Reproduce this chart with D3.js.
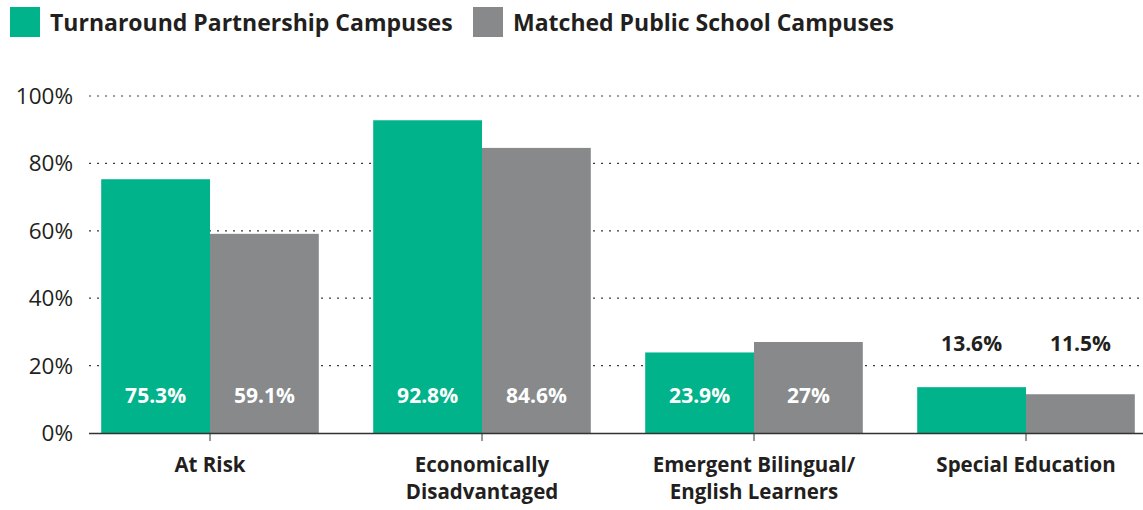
<!DOCTYPE html>
<html>
<head>
<meta charset="utf-8">
<script src="https://cdn.jsdelivr.net/npm/d3@7"></script>
<style>
  body { margin: 0; background: #fff; }
  text { font-family: "Open Sans", Lato, sans-serif; fill: #231f20; }
</style>
</head>
<body>
<div id="chart"></div>
<script>
const categories = [["At Risk"], ["Economically", "Disadvantaged"], ["Emergent Bilingual/", "English Learners"], ["Special Education"]]
const seriesNames = ["Turnaround Partnership Campuses", "Matched Public School Campuses"]
const turnaround = [75.3, 92.8, 23.9, 13.6]
const matched = [59.1, 84.6, 27, 11.5]
const yTicks = [0, 20, 40, 60, 80, 100]
const colors = ["#00b38a", "#87898b"]

const width = 1143, height = 510
const svg = d3.select("#chart").append("svg")
    .attr("width", width)
    .attr("height", height)

const keys = categories.map(c => c.join(" "))
const x = d3.scaleBand().domain(keys).range([74, 1162]).paddingInner(0.2).paddingOuter(0.1)
const xs = d3.scaleBand().domain([0, 1]).range([0, x.bandwidth()])
const y = d3.scaleLinear().domain([0, 100]).range([433, 96])

// grid lines
svg.append("g").selectAll("line")
    .data(yTicks.filter(d => d > 0))
    .enter().append("line")
    .attr("x1", 89).attr("x2", width)
    .attr("y1", d => y(d)).attr("y2", d => y(d))
    .attr("stroke", "#3a3a3a")
    .attr("stroke-width", 1.2)
    .attr("stroke-dasharray", "2,6")

// y labels
svg.append("g").selectAll("text")
    .data(yTicks)
    .enter().append("text")
    .attr("x", 73).attr("y", d => y(d) + 8)
    .attr("text-anchor", "end")
    .style("font-size", "22.5px")
    .style("font-weight", 500)
    .text(d => d + "%")

const rows = keys.map((k, i) => [turnaround[i], matched[i]])

const groups = svg.append("g").selectAll("g")
    .data(rows)
    .enter().append("g")
    .attr("transform", (d, i) => "translate(" + x(keys[i]) + ",0)")

groups.selectAll("rect")
    .data(d => d)
    .enter().append("rect")
    .attr("x", (d, j) => xs(j))
    .attr("width", xs.bandwidth())
    .attr("y", d => y(d))
    .attr("height", d => y(0) - y(d))
    .attr("fill", (d, j) => colors[j])

// value labels: inside the bar, unless the bar is too short
groups.selectAll("text")
    .data(d => d)
    .enter().append("text")
    .attr("x", (d, j) => xs(j) + xs.bandwidth() / 2)
    .attr("y", d => y(d) < 380 ? 403 : 351)
    .attr("text-anchor", "middle")
    .style("font-size", "21px")
    .style("font-weight", 700)
    .style("fill", d => y(d) < 380 ? "#fff" : "#231f20")
    .text(d => d + "%")

// x axis
svg.append("line")
    .attr("x1", 89).attr("x2", width)
    .attr("y1", 433.5).attr("y2", 433.5)
    .attr("stroke", "#333").attr("stroke-width", 1.5)

svg.append("g").selectAll("line")
    .data(keys)
    .enter().append("line")
    .attr("x1", d => x(d) + x.bandwidth() / 2).attr("x2", d => x(d) + x.bandwidth() / 2)
    .attr("y1", 433).attr("y2", 441)
    .attr("stroke", "#333").attr("stroke-width", 1)

const catText = svg.append("g").selectAll("text")
    .data(categories)
    .enter().append("text")
    .attr("text-anchor", "middle")
    .attr("transform", (d, i) => "translate(" + (x(keys[i]) + x.bandwidth() / 2) + ",472)")
    .style("font-size", "20.5px")
    .style("font-weight", 700)
catText.selectAll("tspan")
    .data(d => d)
    .enter().append("tspan")
    .attr("x", 0)
    .attr("dy", (d, i) => i === 0 ? 0 : 27)
    .text(d => d)

// legend
const legendX = [10, 473]
const legend = svg.append("g").selectAll("g")
    .data(seriesNames)
    .enter().append("g")
    .attr("transform", (d, i) => "translate(" + legendX[i] + ",7)")
legend.append("rect")
    .attr("width", 30).attr("height", 30)
    .attr("fill", (d, i) => colors[i])
legend.append("text")
    .attr("x", 40).attr("y", 24)
    .style("font-size", "23px")
    .style("font-weight", 700)
    .text(d => d)
</script>
</body>
</html>
